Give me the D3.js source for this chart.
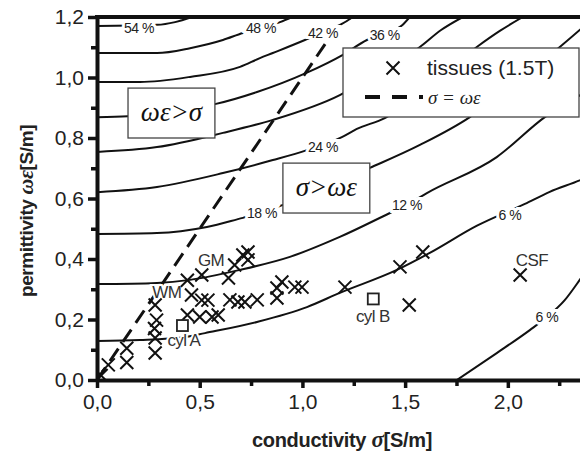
<!DOCTYPE html>
<html lang="en">
<head>
<meta charset="utf-8">
<title>Permittivity vs conductivity</title>
<script src="https://cdn.jsdelivr.net/npm/d3@7"></script>
<style>
  body { margin: 0; background: #fff; }
  svg { display: block; font-family: "Liberation Sans", Arial, sans-serif; }
</style>
</head>
<body>
<script>
// ticks
var xTicks = [0, 0.5, 1.0, 1.5, 2.0];
var xMinor = [0.25, 0.75, 1.25, 1.75, 2.25];
var yTicks = [0, 0.2, 0.4, 0.6, 0.8, 1.0, 1.2];
var yMinor = [0.1, 0.3, 0.5, 0.7, 0.9, 1.1];

// tissues at 1.5T: [sigma, omega*eps] in S/m
var tissues = [
  [0.02, 0.015], [0.055, 0.05], [0.145, 0.105], [0.145, 0.058],
  [0.283, 0.248], [0.29, 0.198], [0.28, 0.17], [0.283, 0.139], [0.283, 0.089],
  [0.44, 0.33], [0.51, 0.347], [0.46, 0.281], [0.51, 0.264], [0.54, 0.264],
  [0.44, 0.215], [0.5, 0.208], [0.56, 0.208], [0.59, 0.215],
  [0.64, 0.337], [0.67, 0.38], [0.71, 0.413], [0.735, 0.423], [0.735, 0.397],
  [0.647, 0.265], [0.686, 0.258], [0.72, 0.258], [0.78, 0.265],
  [0.876, 0.304], [0.9, 0.324], [0.876, 0.271], [0.963, 0.307], [0.998, 0.307],
  [1.207, 0.307], [1.475, 0.374], [1.586, 0.423], [1.52, 0.248], [2.06, 0.347]
];
var tissueNames = ["GM", "WM", "CSF"];
var tissueNamePos = [[0.555, 0.397], [0.34, 0.291], [2.117, 0.397]];

// phantoms
var cylNames = ["cyl A", "cyl B"];
var cylValues = [[0.416, 0.18], [1.345, 0.268]];
var cylNamePos = [[0.423, 0.132], [1.343, 0.213]];

// sigma = omega*eps
var equalLine = [[0, 0], [1.13, 1.13]];

// contour lines
var c54 = [[0, 1.170], [0.292, 1.174], [0.380, 1.183], [0.462, 1.2]];
var c48 = [[0, 1.081], [0.292, 1.081], [0.453, 1.097], [0.613, 1.124], [0.710, 1.147], [0.803, 1.164], [0.891, 1.183], [0.949, 1.2]];
var c42 = [[0, 0.985], [0.209, 0.985], [0.453, 1.002], [0.696, 1.035], [0.793, 1.064], [0.856, 1.081], [1.012, 1.124], [1.100, 1.150], [1.192, 1.177], [1.246, 1.2]];
var c36 = [[0, 0.869], [0.15, 0.872], [0.35, 0.89], [0.574, 0.912], [0.779, 0.952], [1.022, 1.016], [1.197, 1.075], [1.314, 1.124], [1.401, 1.147], [1.484, 1.172], [1.523, 1.2]];
var c30 = [[0, 0.754], [0.292, 0.770], [0.613, 0.817], [0.856, 0.860], [1.182, 0.942], [1.382, 1.022], [1.572, 1.101], [1.675, 1.157], [1.781, 1.2]];
var c24 = [[0, 0.621], [0.292, 0.638], [0.613, 0.684], [0.856, 0.727], [1.022, 0.760], [1.192, 0.803], [1.265, 0.830], [1.401, 0.866], [1.62, 0.979], [1.849, 1.101], [1.961, 1.154], [2.073, 1.2]];
var c18 = [[0, 0.483], [0.292, 0.486], [0.535, 0.506], [0.710, 0.536], [0.803, 0.552], [0.905, 0.579], [1.328, 0.701], [1.572, 0.777], [1.815, 0.869], [2.034, 0.985], [2.253, 1.101], [2.35, 1.157], [2.4, 1.187]];
var c12 = [[0, 0.317], [0.292, 0.321], [0.453, 0.331], [0.696, 0.364], [0.939, 0.407], [1.182, 0.473], [1.426, 0.552], [1.509, 0.579], [1.606, 0.618], [1.946, 0.737], [2.180, 0.869], [2.4, 0.96]];
var c06 = [[0, 0.129], [0.209, 0.132], [0.423, 0.141], [0.526, 0.155], [0.779, 0.192], [1.022, 0.241], [1.182, 0.288], [1.460, 0.364], [1.620, 0.420], [1.85, 0.51], [2.083, 0.582], [2.204, 0.622], [2.35, 0.66], [2.4, 0.675]];
var c06b = [[1.752, 0], [1.946, 0.089], [2.107, 0.165], [2.19, 0.208], [2.277, 0.264], [2.35, 0.331], [2.4, 0.38]];
var contours = [c54, c48, c42, c36, c30, c24, c18, c12, c06, c06b];

var contourLabels = ["54 %", "48 %", "42 %", "36 %", "24 %", "18 %", "12 %", "6 %", "6 %"];
var contourLabelPos = [[0.204, 1.164], [0.798, 1.164], [1.1, 1.147], [1.401, 1.142], [1.1, 0.770], [0.803, 0.552], [1.509, 0.579], [2.01, 0.545], [2.19, 0.208]];

// region annotations [sigma0, sigma1, top, bottom]
var regionText = ["ωε>σ", "σ>ωε"];
var regionBox = [[0.151, 0.574, 0.965, 0.800], [0.905, 1.328, 0.717, 0.552]];

var width = 580, height = 456;

var svg = d3.select("body").append("svg")
  .attr("width", width)
  .attr("height", height);

var x = d3.scaleLinear().domain([0, 2.4]).range([97, 590]);
var y = d3.scaleLinear().domain([0, 1.2]).range([380, 17]);

svg.append("clipPath").attr("id", "plot")
  .append("rect")
  .attr("x", x(0)).attr("y", y(1.2))
  .attr("width", x(2.4) - x(0)).attr("height", y(0) - y(1.2));

var plot = svg.append("g").attr("clip-path", "url(#plot)");

var line = d3.line()
  .x(function(d) { return x(d[0]); })
  .y(function(d) { return y(d[1]); })
  .curve(d3.curveMonotoneX);

plot.selectAll("path.contour")
  .data(contours)
  .enter().append("path")
  .attr("class", "contour")
  .attr("d", line)
  .attr("fill", "none")
  .attr("stroke", "#111")
  .attr("stroke-width", 2);

plot.append("path")
  .attr("d", d3.line().x(function(d) { return x(d[0]); }).y(function(d) { return y(d[1]); })(equalLine))
  .attr("fill", "none")
  .attr("stroke", "#111")
  .attr("stroke-width", 3)
  .attr("stroke-dasharray", "15,8");

// percent labels with white halo cutting the lines
plot.selectAll("text.pct")
  .data(contourLabels)
  .enter().append("text")
  .attr("class", "pct")
  .attr("x", function(d, i) { return x(contourLabelPos[i][0]); })
  .attr("y", function(d, i) { return y(contourLabelPos[i][1]); })
  .attr("dy", "0.36em")
  .attr("text-anchor", "middle")
  .attr("font-size", 14)
  .attr("letter-spacing", -0.5)
  .attr("fill", "#222")
  .attr("stroke", "#fff")
  .attr("stroke-width", 6)
  .attr("paint-order", "stroke")
  .text(function(d) { return d; });

// region boxes
var reg = plot.selectAll("g.region")
  .data(regionText)
  .enter().append("g").attr("class", "region");
reg.append("rect")
  .attr("x", function(d, i) { return x(regionBox[i][0]); })
  .attr("y", function(d, i) { return y(regionBox[i][2]); })
  .attr("width", function(d, i) { return x(regionBox[i][1]) - x(regionBox[i][0]); })
  .attr("height", function(d, i) { return y(regionBox[i][3]) - y(regionBox[i][2]); })
  .attr("fill", "#fff")
  .attr("stroke", "#444")
  .attr("stroke-width", 1.3);
reg.append("text")
  .attr("x", function(d, i) { return (x(regionBox[i][0]) + x(regionBox[i][1])) / 2; })
  .attr("y", function(d, i) { return (y(regionBox[i][2]) + y(regionBox[i][3])) / 2; })
  .attr("dy", "0.3em")
  .attr("text-anchor", "middle")
  .attr("font-family", "'Liberation Serif', 'DejaVu Serif', serif")
  .attr("font-style", "italic")
  .attr("font-size", 27)
  .attr("fill", "#111")
  .text(function(d) { return d; });

// name labels
plot.selectAll("text.name")
  .data(tissueNames.concat(cylNames))
  .enter().append("text")
  .attr("class", "name")
  .attr("x", function(d, i) { return x(tissueNamePos.concat(cylNamePos)[i][0]); })
  .attr("y", function(d, i) { return y(tissueNamePos.concat(cylNamePos)[i][1]); })
  .attr("dy", "0.36em")
  .attr("text-anchor", "middle")
  .attr("font-size", 17)
  .attr("letter-spacing", -0.6)
  .attr("fill", "#333")
  .attr("stroke", "#fff")
  .attr("stroke-width", 4)
  .attr("paint-order", "stroke")
  .text(function(d) { return d; });

var cross = "M-6.5,-6.5L6.5,6.5M-6.5,6.5L6.5,-6.5";
plot.selectAll("path.tissue")
  .data(tissues)
  .enter().append("path")
  .attr("class", "tissue")
  .attr("d", cross)
  .attr("transform", function(d) { return "translate(" + x(d[0]) + "," + y(d[1]) + ")"; })
  .attr("fill", "none")
  .attr("stroke", "#111")
  .attr("stroke-width", 2);

plot.selectAll("rect.cyl")
  .data(cylValues)
  .enter().append("rect")
  .attr("class", "cyl")
  .attr("x", function(d) { return x(d[0]) - 5.5; })
  .attr("y", function(d) { return y(d[1]) - 5.5; })
  .attr("width", 11).attr("height", 11)
  .attr("fill", "#fff")
  .attr("stroke", "#222")
  .attr("stroke-width", 1.8);

// legend
var lg = svg.append("g").attr("transform", "translate(343,48)");
lg.append("rect")
  .attr("width", 236).attr("height", 69)
  .attr("fill", "#fff").attr("stroke", "#444").attr("stroke-width", 1.3);
lg.append("path")
  .attr("d", cross).attr("transform", "translate(50,20)")
  .attr("fill", "none").attr("stroke", "#111").attr("stroke-width", 2);
lg.append("text")
  .attr("x", 84).attr("y", 27)
  .attr("font-size", 21).attr("fill", "#222")
  .text("tissues (1.5T)");
lg.append("line")
  .attr("x1", 22).attr("x2", 80).attr("y1", 49).attr("y2", 49)
  .attr("stroke", "#111").attr("stroke-width", 4)
  .attr("stroke-dasharray", "15,12");
lg.append("text")
  .attr("x", 85).attr("y", 56)
  .attr("font-family", "'Liberation Serif', 'DejaVu Serif', serif")
  .attr("font-style", "italic")
  .attr("font-size", 19).attr("fill", "#222")
  .text("σ = ωε");

// axes
var fmt = d3.formatLocale({decimal: ",", thousands: ".", grouping: [3], currency: ["", ""]}).format(".1f");

svg.append("g")
  .attr("transform", "translate(0," + y(0) + ")")
  .call(d3.axisBottom(x).tickValues(xTicks).tickFormat(fmt).tickSize(8).tickPadding(6).tickSizeOuter(0));
svg.append("g")
  .attr("transform", "translate(0," + y(0) + ")")
  .call(d3.axisBottom(x).tickValues(xMinor).tickFormat("").tickSize(6).tickSizeOuter(0))
  .call(function(g) { g.select(".domain").remove(); });

svg.append("g")
  .attr("transform", "translate(" + x(0) + ",0)")
  .call(d3.axisLeft(y).tickValues(yTicks).tickFormat(fmt).tickSize(9).tickPadding(4).tickSizeOuter(0));
svg.append("g")
  .attr("transform", "translate(" + x(0) + ",0)")
  .call(d3.axisLeft(y).tickValues(yMinor).tickFormat("").tickSize(6).tickSizeOuter(0))
  .call(function(g) { g.select(".domain").remove(); });

svg.selectAll(".domain").attr("stroke", "#111").attr("stroke-width", 4);
svg.selectAll(".tick line").attr("stroke", "#111").attr("stroke-width", 3.5);
svg.selectAll(".tick text")
  .attr("font-family", "'Liberation Sans', Arial, sans-serif")
  .attr("font-size", 21)
  .attr("fill", "#222");

svg.append("line")
  .attr("x1", x(0) - 2).attr("x2", x(2.4))
  .attr("y1", y(1.2)).attr("y2", y(1.2))
  .attr("stroke", "#111").attr("stroke-width", 4);

// axis titles
var xt = svg.append("text")
  .attr("x", 342).attr("y", 447)
  .attr("text-anchor", "middle")
  .attr("font-weight", "bold")
  .attr("font-size", 20)
  .attr("letter-spacing", -0.3)
  .attr("fill", "#222");
xt.append("tspan").text("conductivity ");
xt.append("tspan")
  .attr("font-family", "'Liberation Serif', serif")
  .attr("font-style", "italic").attr("font-size", 23).text("σ");
xt.append("tspan").text("[S/m]");

var yt = svg.append("text")
  .attr("transform", "translate(33,211) rotate(-90)")
  .attr("text-anchor", "middle")
  .attr("font-weight", "bold")
  .attr("font-size", 19)
  .attr("letter-spacing", -0.4)
  .attr("fill", "#222");
yt.append("tspan").text("permittivity ");
yt.append("tspan")
  .attr("font-family", "'Liberation Serif', serif")
  .attr("font-style", "italic").attr("font-size", 22).text("ωε");
yt.append("tspan").text("[S/m]");
</script>
</body>
</html>
